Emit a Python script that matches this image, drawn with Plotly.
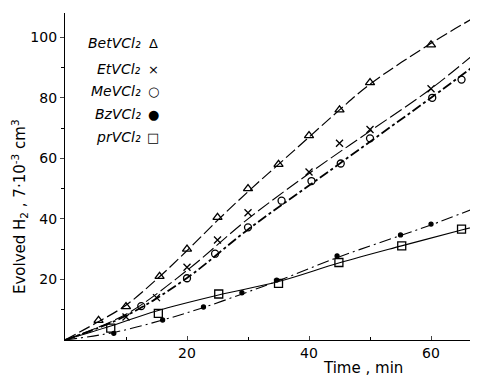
import plotly.graph_objects as go

# ---- data ----
bet_t = [5.5, 10, 15.5, 20, 25, 30, 35, 40, 45, 50, 60]
bet_h = [6.5, 11, 21, 30, 40.5, 50, 58, 67.5, 76, 85, 97.5]
et_t = [10, 15, 20, 25, 30, 40, 45, 50, 60]
et_h = [7.6, 14, 24, 33, 42, 55.5, 65, 69.5, 83]
me_t = [12.5, 20, 24.6, 30, 35.5, 40.4, 45.2, 50, 60.2, 65]
me_h = [11.2, 20.4, 28.5, 37.2, 46, 52.5, 58.3, 66.6, 80, 86]
bz_t = [8, 16, 22.7, 29, 34.7, 44.6, 55, 60]
bz_h = [2.2, 6.6, 10.9, 15.6, 19.8, 27.8, 34.7, 38.3]
pr_t = [7.5, 15.3, 25.2, 35, 44.9, 55.2, 65]
pr_h = [3.9, 8.8, 15.2, 18.7, 25.6, 31.1, 36.6]

# curves drawn through the data
bet_ct = [0, 5, 10, 15, 20, 25, 30, 35, 40, 45, 50, 60, 66.5]
bet_ch = [0, 5.5, 11.5, 20, 29.5, 39.5, 49, 58, 67, 76, 84.5, 98, 105.8]
et_ct = [0, 10, 20, 30, 40, 50, 60, 67.7]
et_ch = [0, 8.5, 23, 40, 55, 69, 83, 95.5]
me_ct = [0, 10, 20, 30, 40, 50, 60, 67.7]
me_ch = [0, 8, 20.5, 36.5, 51, 65.5, 80, 91.5]
bz_ct = [0, 8, 16, 22.5, 30, 35, 45, 55, 60, 66.5]
bz_ch = [0, 2.5, 6.6, 10.6, 15.9, 19.6, 27.5, 34.5, 38, 43]
pr_ct = [0, 7.5, 15, 25, 35, 45, 55, 65, 67.7]
pr_ch = [0, 4.6, 9.6, 14.8, 19.3, 25.5, 31, 36.3, 37.7]

legend_names = ["BetVCl₂", "EtVCl₂", "MeVCl₂", "BzVCl₂", "prVCl₂"]
legend_syms = ["Δ", "×", "○", "●", "□"]

x_ticks = [20, 40, 60]
y_ticks = [20, 40, 60, 80, 100]

fig = go.Figure()

curves = [
    (bet_ct, bet_ch, "12px,4px", 1.2),
    (et_ct, et_ch, "14px,4px", 1.1),
    (me_ct, me_ch, "10px,3px,3px,3px", 1.8),
    (bz_ct, bz_ch, "12px,4px,2px,4px", 1.1),
    (pr_ct, pr_ch, "solid", 1.1),
]
for cx, cy, dash, w in curves:
    fig.add_trace(go.Scatter(x=cx, y=cy, mode="lines", line_shape="spline",
                             line=dict(color="black", width=w, dash=dash),
                             hoverinfo="skip", showlegend=False))

marks = [
    (bet_t, bet_h, "triangle-up-open", 8),
    (et_t, et_h, "x-thin-open", 7),
    (me_t, me_h, "circle-open", 7),
    (bz_t, bz_h, "circle", 4),
    (pr_t, pr_h, "square-open", 8),
]
for mx, my, sym, sz in marks:
    fig.add_trace(go.Scatter(x=mx, y=my, mode="markers",
                             marker=dict(symbol=sym, size=sz, color="black",
                                         line=dict(color="black", width=1.3)),
                             showlegend=False))

# the page body adds an 8px offset; compensate so the plot sits where the reference has it
OFF = 8
W, H = 478 - OFF, 379 - OFF
L, R, T, B = 65 - OFF, 0, 13 - OFF, 39
pw, ph = W - L - R, H - T - B

def px2paper(px, py):
    # px, py in screen pixels of the reference picture
    return (px - OFF - L) / pw, (H - B - (py - OFF)) / ph

ann = []
row_y = [43, 69, 91, 114, 137]
for name, sym, ry in zip(legend_names, legend_syms, row_y):
    xa, ya = px2paper(143, ry)
    ann.append(dict(x=xa, y=ya, xref="paper", yref="paper", text=f"<i>{name}</i>",
                    showarrow=False, xanchor="right", yanchor="middle",
                    font=dict(family="DejaVu Sans", size=14, color="black")))
    xs, _ = px2paper(153, ry)
    ann.append(dict(x=xs, y=ya, xref="paper", yref="paper", text=sym,
                    showarrow=False, xanchor="center", yanchor="middle",
                    font=dict(family="DejaVu Sans", size=13, color="black")))

xt, yt = px2paper(363, 368)
ann.append(dict(x=xt, y=yt, xref="paper", yref="paper", text="Time , min",
                showarrow=False, xanchor="center", yanchor="middle",
                font=dict(family="DejaVu Sans", size=15, color="black")))
xa, ya = px2paper(19, 207)
ann.append(dict(x=xa, y=ya, xref="paper", yref="paper",
                text="Evolved H<sub>2</sub> , 7·10<sup>-3</sup> cm<sup>3</sup>",
                textangle=-90, showarrow=False, xanchor="center", yanchor="middle",
                font=dict(family="DejaVu Sans", size=15, color="black")))

fig.update_layout(
    width=W, height=H, margin=dict(l=L, r=R, t=T, b=B, pad=0),
    paper_bgcolor="white", plot_bgcolor="white",
    showlegend=False, annotations=ann,
    font=dict(family="DejaVu Sans", color="black", size=14),
)
fig.update_xaxes(range=[0, 67.7], tickvals=x_ticks, ticks="inside", ticklen=4,
                 showline=True, linecolor="black", linewidth=1.3, showgrid=False,
                 zeroline=False, tickfont=dict(size=14),
                 minor=dict(tickvals=[10, 30, 50], ticks="inside", ticklen=3, tickcolor="black"))
fig.update_yaxes(range=[0, 108], tickvals=y_ticks, ticks="outside", ticklen=4,
                 showline=True, linecolor="black", linewidth=1.3, showgrid=False,
                 zeroline=False, tickfont=dict(size=14),
                 minor=dict(tickvals=[10, 30, 50, 70, 90], ticks="outside", ticklen=3, tickcolor="black"))

fig.write_html("out.html")
